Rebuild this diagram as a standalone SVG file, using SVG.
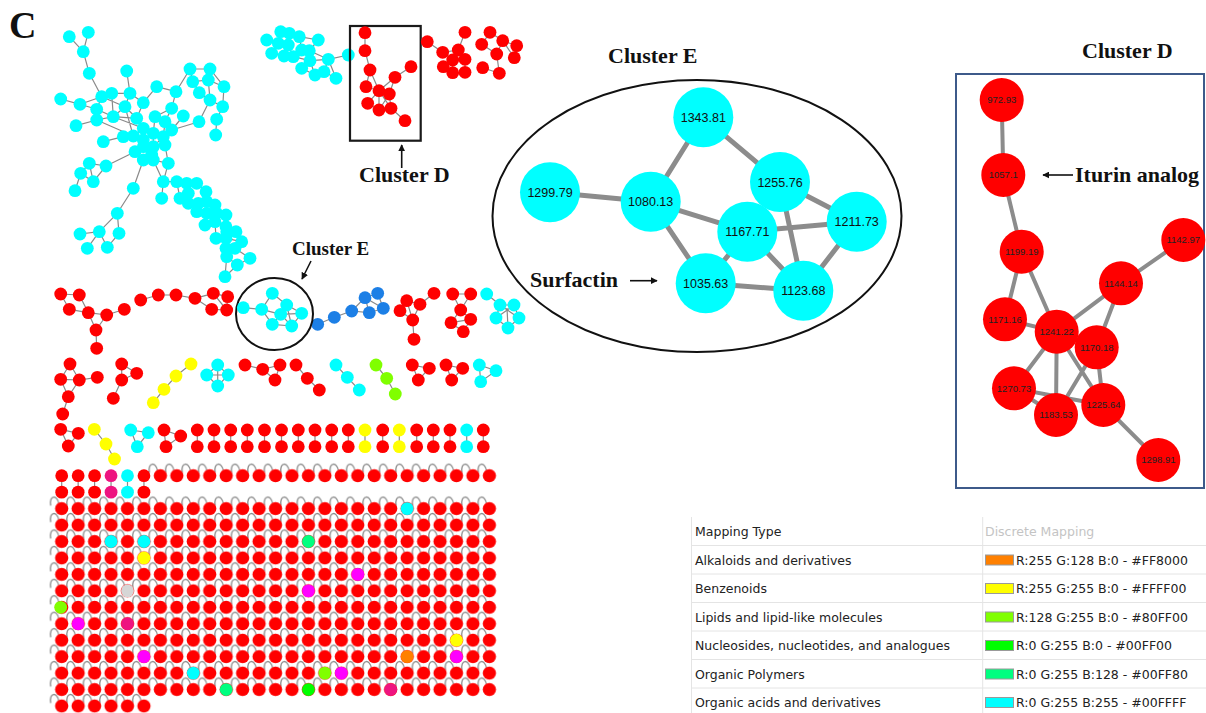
<svg xmlns="http://www.w3.org/2000/svg" xmlns:xlink="http://www.w3.org/1999/xlink" width="1206" height="713" viewBox="0 0 1206 713">
<style>
.r{fill:#ff0000}.c{fill:#00ffff}.y{fill:#ffff00}.b{fill:#1c7fe6}.l{fill:#80ff00}.m{fill:#ff00ff}.p{fill:#ee1480}.g{fill:#00ff00}.sg{fill:#00ff80}.o{fill:#ff8000}.gr{fill:#d6d6d6}
.e{stroke:#8a8a8a;stroke-width:1.2;fill:none}
.E{stroke:#8c8c8c;stroke-width:5;fill:none}
.D{stroke:#8c8c8c;stroke-width:4;fill:none}
.t{font-family:"Liberation Serif","Times New Roman",serif;font-weight:bold;fill:#111}
.le{font-family:"Liberation Sans",Arial,sans-serif;font-size:12.5px;fill:#111;text-anchor:middle}
.ld{font-family:"Liberation Sans",Arial,sans-serif;font-size:9.5px;fill:#222;text-anchor:middle}
.lg{font-family:"DejaVu Sans",Verdana,sans-serif;font-size:12.5px;fill:#222}
.sep{stroke:#e4e4e4;stroke-width:1}
.sw{stroke:#9a9a9a;stroke-width:1}
</style>
<defs>
<circle id="s" r="6.4"/>
<marker id="ah" viewBox="0 0 10 10" refX="9" refY="5" markerWidth="7" markerHeight="7" orient="auto" markerUnits="userSpaceOnUse"><path d="M0 0L10 5L0 10z" fill="#111"/></marker>
<pattern id="gn" patternUnits="userSpaceOnUse" x="53.475" y="467.475" width="16.45" height="16.45"><circle cx="8.225" cy="8.225" r="6.6" fill="#ff0000"/></pattern>
<pattern id="gl" patternUnits="userSpaceOnUse" x="48.7" y="462.7" width="16.45" height="16.45"><path d="M10 8C9 -1 0 -1 2 10" fill="none" stroke="#8a8a8a" stroke-width="1.3"/></pattern>
</defs>
<rect width="1206" height="713" fill="#ffffff"/>
<text class="t" x="9" y="38" font-size="38">C</text>

<g id="connectors">
<path class="e" d="M69.3 36.7L83.3 51.7M88.3 32.3L83.3 51.7M83.3 51.7L89.3 73.3M89.3 73.3L101.7 96.7M126.7 71L130 93.3M60.7 99L80 104.3M80 104.3L101.7 96.7M80 104.3L96.7 109.3M76 125.7L96.7 120M101.7 96.7L111.7 93.3M101.7 96.7L96.7 109.3M111.7 93.3L130 93.3M111.7 93.3L113.3 116.7M96.7 109.3L96.7 120M96.7 109.3L113.3 116.7M96.7 120L113.3 116.7M113.3 116.7L125 106.7M125 106.7L130 93.3M130 93.3L143.3 102.7M125 106.7L136.7 118.3M113.3 116.7L136.7 118.3M143.3 102.7L136.7 118.3M143.3 102.7L156.7 86.7M101.7 96.7L125 106.7M156.7 86.7L176 91.7M176 91.7L190 69M176 91.7L171.7 108.3M171.7 108.3L155 116.7M171.7 108.3L165 121.7M155 116.7L153.3 133.3M165 121.7L163.3 136.7M183.3 116L171.7 130M190 69L210 69M190 69L192.7 81.7M210 69L208.3 80M192.7 81.7L208.3 80M210 69L224 86.7M208.3 80L224 86.7M192.7 81.7L199.3 92.7M199.3 92.7L210 100M208.3 80L210 100M224 86.7L222.7 106.7M210 100L222.7 106.7M222.7 106.7L216.7 119.3M210 100L199 121.7M216.7 119.3L215.7 135M199 121.7L171.7 130M96.7 120L133.3 136M113.3 116.7L143.3 128.3M136.7 118.3L143.3 128.3M125 106.7L133.3 136"/>
<path class="e" d="M123.3 136.7L133.3 136M133.3 136L143.3 128.3M143.3 128.3L153.3 133.3M153.3 133.3L163.3 136.7M163.3 136.7L171.7 130M133.3 136L143.3 140M143.3 128.3L143.3 140M143.3 140L143.3 146.7M135 151.7L143.3 146.7M143.3 146.7L153.3 146.7M153.3 146.7L151.7 155M151.7 155L143.3 160M143.3 160L153.3 160M153.3 146.7L165 145M165 145L163.3 136.7M135 151.7L143.3 160M153.3 133.3L153.3 146.7M103.3 141.7L123.3 136.7M143.3 140L135 151.7M165 145L168.3 163.3M153.3 160L168.3 163.3M163.3 136.7L153.3 146.7M135 151.7L106 166M89.3 163.3L106 166M89.3 163.3L80.7 173.3M80.7 173.3L93.3 181.7M106 166L93.3 181.7M80.7 173.3L75 190.7M89.3 163.3L93.3 181.7M143.3 160L133.3 188.3M133.3 188.3L117.3 213.3M117.3 213.3L99.3 231.7M117.3 213.3L119 233.3M99.3 231.7L80 234M99.3 231.7L87.3 248.3M99.3 231.7L107.3 247.3M107.3 247.3L119 233.3"/>
<path class="e" d="M153.3 160L163.3 181.7M163.3 181.7L161.7 198.3M163.3 181.7L176.7 181.7M176.7 181.7L186.7 183.3M186.7 183.3L196.7 183.3M196.7 183.3L206 191.7M176.7 181.7L180 198.3M186.7 183.3L188.3 193.3M188.3 193.3L180 198.3M188.3 193.3L188.3 203.3M180 198.3L188.3 203.3M188.3 203.3L198.3 203.3M198.3 203.3L206.7 201.7M206 191.7L206.7 201.7M206.7 201.7L215 205M198.3 203.3L196.7 211.7M196.7 211.7L206.7 213.3M206.7 213.3L216.7 213.3M216.7 213.3L226 215M215 205L216.7 213.3M206.7 213.3L205 225M205 225L215 221.7M215 221.7L226 226.7M226 215L226 226.7M215 221.7L216 238.3M226.7 231.7L236 231.7M216 238.3L226 238.3M226 238.3L241.7 241.7M236 231.7L241.7 241.7M226 238.3L226 248.3M226 248.3L235 248.3M241.7 241.7L235 248.3M226 248.3L226.7 256.7M235 248.3L250 258.3M226.7 256.7L237.3 265M250 258.3L237.3 265M226.7 256.7L225 276.7M237.3 265L225 276.7M168.3 163.3L163.3 181.7"/>
<path class="e" d="M266.7 40L278.3 43.3M280.7 31.7L289.3 33.3M289.3 33.3L299.3 36.7M299.3 36.7L318.3 40M299.3 36.7L301.7 50M318.3 40L309.3 50.7M278.3 43.3L288.3 45M271.7 53.3L278.3 43.3M271.7 53.3L284 56M288.3 45L284 56M288.3 45L293.3 56.7M284 56L293.3 56.7M293.3 56.7L301.7 50M301.7 50L309.3 50.7M309.3 50.7L310 60.7M293.3 56.7L310 60.7M310 60.7L328.3 59.3M309.3 50.7L328.3 59.3M328.3 59.3L348.3 55M310 60.7L301.7 68.3M310 60.7L315 75M301.7 68.3L315 75M315 75L324 71.7M328.3 59.3L324 71.7M324 71.7L336 78.3M328.3 59.3L336 78.3M280.7 31.7L278.3 43.3M289.3 33.3L288.3 45"/>
<path class="e" d="M365 32.7L365 50.7M365 50.7L370 70M370 70L366 86.7M370 70L379 90.7M411 66.7L395 77.3M395 77.3L379 90.7M395 77.3L389.3 94M366 86.7L379 90.7M379 90.7L367.7 103.3M379 90.7L379 110M379 90.7L391 108.3M389.3 94L379 110M389.3 94L391 108.3M367.7 103.3L379 110M379 110L391 108.3M391 108.3L405 120.7"/>
<path class="e" d="M427.3 41.7L442.7 52.3M442.7 52.3L458.3 50M458.3 50L465 32.3M442.7 52.3L452.7 60M458.3 50L452.7 60M458.3 50L465 59.3M452.7 60L465 59.3M452.7 60L443.3 66.7M452.7 60L452.7 72.7M465 59.3L465 72.3M443.3 66.7L452.7 72.7M452.7 72.7L465 72.3M490 32.3L481.7 44.3M490 32.3L502.7 40.7M481.7 44.3L496.7 54M502.7 40.7L496.7 54M502.7 40.7L516.7 45.7M502.7 40.7L514.3 57.7M516.7 45.7L514.3 57.7M496.7 54L499.3 73.3M482.7 67.7L499.3 73.3"/>
<path class="e" d="M60.7 294L79.3 295M60.7 294L69.3 309.3M79.3 295L88.3 312.7M69.3 309.3L88.3 312.7M88.3 312.7L106.7 315M106.7 315L124.3 309.3M88.3 312.7L96 330M106.7 315L96 330M96 330L96.7 348.3M140.7 300L158.3 295L176 295L195 298.3M195 298.3L213.3 293.3M195 298.3L211.7 309.3M213.3 293.3L227.7 296.7M227.7 296.7L226.7 310M211.7 309.3L226.7 310M213.3 293.3L226.7 310"/>
<path class="e" d="M243.3 307.7L261.7 309.3M272.3 293.3L261.7 309.3M272.3 293.3L286.7 305M261.7 309.3L280.7 314.3M261.7 309.3L272.3 324.3M286.7 305L301.7 313.3M286.7 305L291.7 326M280.7 314.3L301.7 313.3M280.7 314.3L291.7 326M280.7 314.3L272.3 324.3M272.3 324.3L291.7 326M301.7 313.3L291.7 326"/>
<path class="e" d="M317.7 324.3L334.3 317.3L351.7 311M351.7 311L365 297.7M351.7 311L369.3 312.7M365 297.7L377.7 293.3M365 297.7L369.3 312.7M377.7 293.3L383.3 308.3M369.3 312.7L383.3 308.3M365 297.7L383.3 308.3"/>
<path class="e" d="M400 310.7L406.7 300.7M406.7 300.7L420 304.3M420 304.3L434 293.3M400 310.7L412.7 320M420 304.3L412.7 320M406.7 300.7L412.7 320M412.7 320L414 339.3M452.7 294L470.7 294M452.7 294L460.7 310M470.7 294L460.7 310M460.7 310L451 322.7M460.7 310L470.7 319.3M451 322.7L463.3 331.7M470.7 319.3L463.3 331.7M451 322.7L470.7 319.3"/>
<path class="e" d="M486.7 294L500 305M500 305L514 305M514 305L519 318M519 318L508 328M508 328L496 318M496 318L500 305M500 305L519 318M514 305L496 318M508 328L507 308"/>
<path class="e" d="M70 364L60.7 379.3M70 364L79.3 380M60.7 379.3L79.3 380M79.3 380L97.3 377.3M60.7 379.3L68.3 396.7M79.3 380L68.3 396.7M68.3 396.7L62.7 414M121.7 364L136.7 373.3M121.7 364L121.7 380M136.7 373.3L121.7 380M121.7 380L113.3 398.3M191 364L176 376L164 389.3L153.3 402.7M217.7 365L206.7 375L217.7 386L228.3 375ZM217.7 365L217.7 386M206.7 375L228.3 375M245 365L262.7 369.3L280 365L275 380L262.7 369.3M296 365L307.3 378.3L319.3 390M336 365L347.3 377.3L359.3 390M376 365L386.7 378.3L395.3 394M412.3 365L429.3 368.3L418.3 380ZM446 365L462.7 368.3L451.7 380ZM479.3 365L496 370.7L480.7 381.7Z"/>
<path class="e" d="M60.7 429.3L78.3 433.3L68.3 446ZM94.3 429.3L106 444L114.5 459M130.7 430L148.3 432.7L137.3 446.7ZM164 430L180.7 436L166 446.7ZM197.3 430V446.7M214 430V446.7M230.7 430V446.7M247.3 430V446.7M264.5 430V446.7M281.5 430V446.7M298.3 430V446.7M315 430V446.7M331.7 430V446.7M348.3 430V446.7M365 430V446.7M382.7 430V446.7M399.3 430V446.7M416.7 430V446.7M433.3 430V446.7M450 430V446.7M466.7 430V446.7M483.3 430V446.7"/>
<path class="e" d="M61.7 475.7V492.15M78.15 475.7V492.15M94.6 475.7V492.15M111.05 475.7V492.15M127.5 475.7V492.15M143.95 475.7V492.15"/>
<rect x="147.4" y="462.7" width="345.45" height="16.45" fill="url(#gl)"/>
<rect x="48.7" y="495.6" width="444.15" height="197.4" fill="url(#gl)"/>
<rect x="48.7" y="692.99" width="98.7" height="16.45" fill="url(#gl)"/>
<path class="E" d="M703.3 117.3L650.7 201.7M703.3 117.3L780 182M550 192.3L650.7 201.7M650.7 201.7L747.3 231.7M650.7 201.7L705.7 283.3M780 182L856.7 221.7M780 182L803.3 290.7M747.3 231.7L856.7 221.7M747.3 231.7L803.3 290.7M747.3 231.7L705.7 283.3M705.7 283.3L803.3 290.7M856.7 221.7L803.3 290.7"/>
<path class="D" d="M1001.7 100L1003.3 175M1003.3 175L1021.7 251.7M1021.7 251.7L1005 319.3M1021.7 251.7L1056.7 331.7M1183.3 240L1121 283.3M1121 283.3L1056.7 331.7M1121 283.3L1096.7 347.3M1005 319.3L1056.7 331.7M1056.7 331.7L1014 388.3M1056.7 331.7L1056 415M1056.7 331.7L1103.3 405M1096.7 347.3L1056 415M1096.7 347.3L1103.3 405M1014 388.3L1056 415M1014 388.3L1103.3 405M1103.3 405L1158.3 460"/>
</g>

<g id="net-main">
<use href="#s" class="c" x="69.3" y="36.7"/><use href="#s" class="c" x="88.3" y="32.3"/><use href="#s" class="c" x="83.3" y="51.7"/><use href="#s" class="c" x="89.3" y="73.3"/><use href="#s" class="c" x="126.7" y="71"/><use href="#s" class="c" x="60.7" y="99"/><use href="#s" class="c" x="80" y="104.3"/><use href="#s" class="c" x="76" y="125.7"/><use href="#s" class="c" x="101.7" y="96.7"/><use href="#s" class="c" x="111.7" y="93.3"/><use href="#s" class="c" x="96.7" y="109.3"/><use href="#s" class="c" x="96.7" y="120"/><use href="#s" class="c" x="113.3" y="116.7"/><use href="#s" class="c" x="125" y="106.7"/><use href="#s" class="c" x="130" y="93.3"/><use href="#s" class="c" x="143.3" y="102.7"/><use href="#s" class="c" x="136.7" y="118.3"/><use href="#s" class="c" x="156.7" y="86.7"/><use href="#s" class="c" x="176" y="91.7"/><use href="#s" class="c" x="171.7" y="108.3"/><use href="#s" class="c" x="155" y="116.7"/><use href="#s" class="c" x="165" y="121.7"/><use href="#s" class="c" x="183.3" y="116"/><use href="#s" class="c" x="190" y="69"/><use href="#s" class="c" x="210" y="69"/><use href="#s" class="c" x="192.7" y="81.7"/><use href="#s" class="c" x="208.3" y="80"/><use href="#s" class="c" x="224" y="86.7"/><use href="#s" class="c" x="199.3" y="92.7"/><use href="#s" class="c" x="210" y="100"/><use href="#s" class="c" x="222.7" y="106.7"/><use href="#s" class="c" x="216.7" y="119.3"/><use href="#s" class="c" x="199" y="121.7"/><use href="#s" class="c" x="215.7" y="135"/>
<use href="#s" class="c" x="123.3" y="136.7"/><use href="#s" class="c" x="133.3" y="136"/><use href="#s" class="c" x="143.3" y="128.3"/><use href="#s" class="c" x="153.3" y="133.3"/><use href="#s" class="c" x="163.3" y="136.7"/><use href="#s" class="c" x="171.7" y="130"/><use href="#s" class="c" x="165" y="145"/><use href="#s" class="c" x="143.3" y="140"/><use href="#s" class="c" x="135" y="151.7"/><use href="#s" class="c" x="143.3" y="146.7"/><use href="#s" class="c" x="153.3" y="146.7"/><use href="#s" class="c" x="151.7" y="155"/><use href="#s" class="c" x="143.3" y="160"/><use href="#s" class="c" x="153.3" y="160"/><use href="#s" class="c" x="103.3" y="141.7"/><use href="#s" class="c" x="168.3" y="163.3"/><use href="#s" class="c" x="89.3" y="163.3"/><use href="#s" class="c" x="106" y="166"/><use href="#s" class="c" x="80.7" y="173.3"/><use href="#s" class="c" x="93.3" y="181.7"/><use href="#s" class="c" x="75" y="190.7"/><use href="#s" class="c" x="133.3" y="188.3"/><use href="#s" class="c" x="117.3" y="213.3"/><use href="#s" class="c" x="99.3" y="231.7"/><use href="#s" class="c" x="80" y="234"/><use href="#s" class="c" x="87.3" y="248.3"/><use href="#s" class="c" x="107.3" y="247.3"/><use href="#s" class="c" x="119" y="233.3"/>
<use href="#s" class="c" x="163.3" y="181.7"/><use href="#s" class="c" x="161.7" y="198.3"/><use href="#s" class="c" x="176.7" y="181.7"/><use href="#s" class="c" x="186.7" y="183.3"/><use href="#s" class="c" x="196.7" y="183.3"/><use href="#s" class="c" x="206" y="191.7"/><use href="#s" class="c" x="188.3" y="193.3"/><use href="#s" class="c" x="180" y="198.3"/><use href="#s" class="c" x="188.3" y="203.3"/><use href="#s" class="c" x="198.3" y="203.3"/><use href="#s" class="c" x="206.7" y="201.7"/><use href="#s" class="c" x="215" y="205"/><use href="#s" class="c" x="196.7" y="211.7"/><use href="#s" class="c" x="206.7" y="213.3"/><use href="#s" class="c" x="216.7" y="213.3"/><use href="#s" class="c" x="226" y="215"/><use href="#s" class="c" x="205" y="225"/><use href="#s" class="c" x="215" y="221.7"/><use href="#s" class="c" x="226" y="226.7"/><use href="#s" class="c" x="216" y="238.3"/><use href="#s" class="c" x="226.7" y="231.7"/><use href="#s" class="c" x="236" y="231.7"/><use href="#s" class="c" x="226" y="238.3"/><use href="#s" class="c" x="241.7" y="241.7"/><use href="#s" class="c" x="226" y="248.3"/><use href="#s" class="c" x="235" y="248.3"/><use href="#s" class="c" x="226.7" y="256.7"/><use href="#s" class="c" x="250" y="258.3"/><use href="#s" class="c" x="237.3" y="265"/><use href="#s" class="c" x="225" y="276.7"/>
</g>
<g id="net-top-cyan">
<use href="#s" class="c" x="266.7" y="40"/><use href="#s" class="c" x="280.7" y="31.7"/><use href="#s" class="c" x="289.3" y="33.3"/><use href="#s" class="c" x="299.3" y="36.7"/><use href="#s" class="c" x="318.3" y="40"/><use href="#s" class="c" x="271.7" y="53.3"/><use href="#s" class="c" x="278.3" y="43.3"/><use href="#s" class="c" x="288.3" y="45"/><use href="#s" class="c" x="284" y="56"/><use href="#s" class="c" x="293.3" y="56.7"/><use href="#s" class="c" x="301.7" y="50"/><use href="#s" class="c" x="309.3" y="50.7"/><use href="#s" class="c" x="310" y="60.7"/><use href="#s" class="c" x="328.3" y="59.3"/><use href="#s" class="c" x="348.3" y="55"/><use href="#s" class="c" x="301.7" y="68.3"/><use href="#s" class="c" x="315" y="75"/><use href="#s" class="c" x="324" y="71.7"/><use href="#s" class="c" x="336" y="78.3"/>
</g>
<g id="cluster-d-small">
<rect x="350" y="26" width="70.7" height="114.7" fill="none" stroke="#1a1a1a" stroke-width="2.2"/>
<use href="#s" class="r" x="365" y="32.7"/><use href="#s" class="r" x="365" y="50.7"/><use href="#s" class="r" x="370" y="70"/><use href="#s" class="r" x="366" y="86.7"/><use href="#s" class="r" x="379" y="90.7"/><use href="#s" class="r" x="389.3" y="94"/><use href="#s" class="r" x="395" y="77.3"/><use href="#s" class="r" x="411" y="66.7"/><use href="#s" class="r" x="367.7" y="103.3"/><use href="#s" class="r" x="379" y="110"/><use href="#s" class="r" x="391" y="108.3"/><use href="#s" class="r" x="405" y="120.7"/>
<line x1="401.7" y1="168" x2="401.7" y2="145" stroke="#111" stroke-width="1.6" marker-end="url(#ah)"/>
<text class="t" x="359" y="182" font-size="22">Cluster D</text>
</g>
<g id="net-top-red">
<use href="#s" class="r" x="427.3" y="41.7"/><use href="#s" class="r" x="442.7" y="52.3"/><use href="#s" class="r" x="458.3" y="50"/><use href="#s" class="r" x="465" y="32.3"/><use href="#s" class="r" x="452.7" y="60"/><use href="#s" class="r" x="465" y="59.3"/><use href="#s" class="r" x="443.3" y="66.7"/><use href="#s" class="r" x="452.7" y="72.7"/><use href="#s" class="r" x="465" y="72.3"/>
<use href="#s" class="r" x="490" y="32.3"/><use href="#s" class="r" x="481.7" y="44.3"/><use href="#s" class="r" x="502.7" y="40.7"/><use href="#s" class="r" x="516.7" y="45.7"/><use href="#s" class="r" x="496.7" y="54"/><use href="#s" class="r" x="514.3" y="57.7"/><use href="#s" class="r" x="482.7" y="67.7"/><use href="#s" class="r" x="499.3" y="73.3"/>
</g>
<g id="row-a">
<use href="#s" class="r" x="60.7" y="294"/><use href="#s" class="r" x="79.3" y="295"/><use href="#s" class="r" x="69.3" y="309.3"/><use href="#s" class="r" x="88.3" y="312.7"/><use href="#s" class="r" x="106.7" y="315"/><use href="#s" class="r" x="124.3" y="309.3"/><use href="#s" class="r" x="96" y="330"/><use href="#s" class="r" x="96.7" y="348.3"/>
<use href="#s" class="r" x="140.7" y="300"/><use href="#s" class="r" x="158.3" y="295"/><use href="#s" class="r" x="176" y="295"/><use href="#s" class="r" x="195" y="298.3"/><use href="#s" class="r" x="213.3" y="293.3"/><use href="#s" class="r" x="227.7" y="296.7"/><use href="#s" class="r" x="211.7" y="309.3"/><use href="#s" class="r" x="226.7" y="310"/>
<use href="#s" class="b" x="317.7" y="324.3"/><use href="#s" class="b" x="334.3" y="317.3"/><use href="#s" class="b" x="351.7" y="311"/><use href="#s" class="b" x="365" y="297.7"/><use href="#s" class="b" x="377.7" y="293.3"/><use href="#s" class="b" x="369.3" y="312.7"/><use href="#s" class="b" x="383.3" y="308.3"/>
<use href="#s" class="r" x="400" y="310.7"/><use href="#s" class="r" x="406.7" y="300.7"/><use href="#s" class="r" x="420" y="304.3"/><use href="#s" class="r" x="434" y="293.3"/><use href="#s" class="r" x="412.7" y="320"/><use href="#s" class="r" x="414" y="339.3"/>
<use href="#s" class="r" x="452.7" y="294"/><use href="#s" class="r" x="470.7" y="294"/><use href="#s" class="r" x="460.7" y="310"/><use href="#s" class="r" x="451" y="322.7"/><use href="#s" class="r" x="470.7" y="319.3"/><use href="#s" class="r" x="463.3" y="331.7"/>
<use href="#s" class="c" x="486.7" y="294"/><use href="#s" class="c" x="500" y="305"/><use href="#s" class="c" x="514" y="305"/><use href="#s" class="c" x="496" y="318"/><use href="#s" class="c" x="519" y="318"/><use href="#s" class="c" x="508" y="328"/>
</g>
<g id="cluster-e-small">
<ellipse cx="274.5" cy="314" rx="38.5" ry="36" fill="none" stroke="#111" stroke-width="2"/>
<use href="#s" class="c" x="243.3" y="307.7"/><use href="#s" class="c" x="261.7" y="309.3"/><use href="#s" class="c" x="272.3" y="293.3"/><use href="#s" class="c" x="286.7" y="305"/><use href="#s" class="c" x="301.7" y="313.3"/><use href="#s" class="c" x="280.7" y="314.3"/><use href="#s" class="c" x="272.3" y="324.3"/><use href="#s" class="c" x="291.7" y="326"/>
<line x1="311" y1="261" x2="302" y2="279" stroke="#111" stroke-width="1.6" marker-end="url(#ah)"/>
<text class="t" x="292" y="255" font-size="19">Cluster E</text>
</g>
<g id="row-b">
<use href="#s" class="r" x="70" y="364"/><use href="#s" class="r" x="60.7" y="379.3"/><use href="#s" class="r" x="79.3" y="380"/><use href="#s" class="r" x="97.3" y="377.3"/><use href="#s" class="r" x="68.3" y="396.7"/><use href="#s" class="r" x="62.7" y="414"/>
<use href="#s" class="r" x="121.7" y="364"/><use href="#s" class="r" x="136.7" y="373.3"/><use href="#s" class="r" x="121.7" y="380"/><use href="#s" class="r" x="113.3" y="398.3"/>
<use href="#s" class="y" x="191" y="364"/><use href="#s" class="y" x="176" y="376"/><use href="#s" class="y" x="164" y="389.3"/><use href="#s" class="y" x="153.3" y="402.7"/>
<use href="#s" class="c" x="217.7" y="365"/><use href="#s" class="c" x="206.7" y="375"/><use href="#s" class="c" x="228.3" y="375"/><use href="#s" class="c" x="217.7" y="386"/>
<use href="#s" class="r" x="245" y="365"/><use href="#s" class="r" x="262.7" y="369.3"/><use href="#s" class="r" x="280" y="365"/><use href="#s" class="r" x="275" y="380"/>
<use href="#s" class="r" x="296" y="365"/><use href="#s" class="r" x="307.3" y="378.3"/><use href="#s" class="r" x="319.3" y="390"/>
<use href="#s" class="c" x="336" y="365"/><use href="#s" class="c" x="347.3" y="377.3"/><use href="#s" class="c" x="359.3" y="390"/>
<use href="#s" class="l" x="376" y="365"/><use href="#s" class="l" x="386.7" y="378.3"/><use href="#s" class="l" x="395.3" y="394"/>
<use href="#s" class="r" x="412.3" y="365"/><use href="#s" class="r" x="429.3" y="368.3"/><use href="#s" class="r" x="418.3" y="380"/>
<use href="#s" class="r" x="446" y="365"/><use href="#s" class="r" x="462.7" y="368.3"/><use href="#s" class="r" x="451.7" y="380"/>
<use href="#s" class="c" x="479.3" y="365"/><use href="#s" class="c" x="496" y="370.7"/><use href="#s" class="c" x="480.7" y="381.7"/>
</g>
<g id="row-c">
<use href="#s" class="r" x="60.7" y="429.3"/><use href="#s" class="r" x="78.3" y="433.3"/><use href="#s" class="r" x="68.3" y="446"/>
<use href="#s" class="y" x="94.3" y="429.3"/><use href="#s" class="y" x="106" y="444"/><use href="#s" class="y" x="114.5" y="459"/>
<use href="#s" class="c" x="130.7" y="430"/><use href="#s" class="c" x="148.3" y="432.7"/><use href="#s" class="c" x="137.3" y="446.7"/>
<use href="#s" class="r" x="164" y="430"/><use href="#s" class="r" x="180.7" y="436"/><use href="#s" class="r" x="166" y="446.7"/>
<use href="#s" class="r" x="197.3" y="430"/><use href="#s" class="r" x="197.3" y="446.7"/><use href="#s" class="r" x="214" y="430"/><use href="#s" class="r" x="214" y="446.7"/><use href="#s" class="r" x="230.7" y="430"/><use href="#s" class="r" x="230.7" y="446.7"/><use href="#s" class="r" x="247.3" y="430"/><use href="#s" class="r" x="247.3" y="446.7"/><use href="#s" class="r" x="264.5" y="430"/><use href="#s" class="r" x="264.5" y="446.7"/><use href="#s" class="r" x="281.5" y="430"/><use href="#s" class="r" x="281.5" y="446.7"/><use href="#s" class="r" x="298.3" y="430"/><use href="#s" class="r" x="298.3" y="446.7"/><use href="#s" class="r" x="315" y="430"/><use href="#s" class="r" x="315" y="446.7"/><use href="#s" class="r" x="331.7" y="430"/><use href="#s" class="r" x="331.7" y="446.7"/><use href="#s" class="r" x="348.3" y="430"/><use href="#s" class="r" x="348.3" y="446.7"/><use href="#s" class="y" x="365" y="430"/><use href="#s" class="y" x="365" y="446.7"/><use href="#s" class="r" x="382.7" y="430"/><use href="#s" class="r" x="382.7" y="446.7"/><use href="#s" class="y" x="399.3" y="430"/><use href="#s" class="y" x="399.3" y="446.7"/><use href="#s" class="r" x="416.7" y="430"/><use href="#s" class="r" x="416.7" y="446.7"/><use href="#s" class="r" x="433.3" y="430"/><use href="#s" class="r" x="433.3" y="446.7"/><use href="#s" class="r" x="450" y="430"/><use href="#s" class="r" x="450" y="446.7"/><use href="#s" class="c" x="466.7" y="430"/><use href="#s" class="c" x="466.7" y="446.7"/><use href="#s" class="r" x="483.3" y="430"/><use href="#s" class="r" x="483.3" y="446.7"/>
</g>
<g id="grid">
<use href="#s" class="r" x="61.7" y="475.7"/><use href="#s" class="r" x="61.7" y="492.15"/><use href="#s" class="r" x="78.15" y="475.7"/><use href="#s" class="r" x="78.15" y="492.15"/><use href="#s" class="r" x="94.6" y="475.7"/><use href="#s" class="r" x="94.6" y="492.15"/><use href="#s" class="p" x="111.05" y="475.7"/><use href="#s" class="p" x="111.05" y="492.15"/><use href="#s" class="c" x="127.5" y="475.7"/><use href="#s" class="c" x="127.5" y="492.15"/><use href="#s" class="r" x="143.95" y="475.7"/><use href="#s" class="r" x="143.95" y="492.15"/>
<rect x="152.175" y="467.475" width="345.45" height="16.45" fill="url(#gn)"/>
<rect x="53.475" y="500.375" width="444.15" height="197.4" fill="url(#gn)"/>
<rect x="53.475" y="697.775" width="98.7" height="16.45" fill="url(#gn)"/>
<use href="#s" class="c" x="407.15" y="508.6"/><use href="#s" class="c" x="111.05" y="541.5"/><use href="#s" class="c" x="143.95" y="541.5"/><use href="#s" class="sg" x="308.45" y="541.5"/><use href="#s" class="y" x="143.95" y="557.95"/><use href="#s" class="m" x="357.8" y="574.4"/><use href="#s" class="gr" x="127.5" y="590.85"/><use href="#s" class="m" x="308.45" y="590.85"/><use href="#s" class="l" x="60.7" y="607.3"/><use href="#s" class="m" x="78.15" y="623.75"/><use href="#s" class="p" x="127.5" y="623.75"/><use href="#s" class="y" x="456.5" y="640.2"/><use href="#s" class="m" x="143.95" y="656.65"/><use href="#s" class="o" x="407.15" y="656.65"/><use href="#s" class="m" x="456.5" y="656.65"/><use href="#s" class="c" x="193.3" y="673.1"/><use href="#s" class="l" x="324.9" y="673.1"/><use href="#s" class="m" x="341.35" y="673.1"/><use href="#s" class="sg" x="226.2" y="689.55"/><use href="#s" class="g" x="308.45" y="689.55"/><use href="#s" class="p" x="390.7" y="689.55"/>
</g>

<g id="cluster-e">
<text class="t" x="608" y="63" font-size="22">Cluster E</text>
<ellipse cx="697" cy="216" rx="204.5" ry="136" fill="none" stroke="#111" stroke-width="2"/>
<g id="e1343"><circle cx="703.3" cy="117.3" r="30" class="c"/><text class="le" x="703.3" y="121.8">1343.81</text></g>
<g id="e1299"><circle cx="550" cy="192.3" r="30" class="c"/><text class="le" x="550" y="196.8">1299.79</text></g>
<g id="e1080"><circle cx="650.7" cy="201.7" r="30" class="c"/><text class="le" x="650.7" y="206.2">1080.13</text></g>
<g id="e1255"><circle cx="780" cy="182" r="30" class="c"/><text class="le" x="780" y="186.5">1255.76</text></g>
<g id="e1211"><circle cx="856.7" cy="221.7" r="30" class="c"/><text class="le" x="856.7" y="226.2">1211.73</text></g>
<g id="e1167"><circle cx="747.3" cy="231.7" r="30" class="c"/><text class="le" x="747.3" y="236.2">1167.71</text></g>
<g id="e1035"><circle cx="705.7" cy="283.3" r="30" class="c"/><text class="le" x="705.7" y="287.8">1035.63</text></g>
<g id="e1123"><circle cx="803.3" cy="290.7" r="30" class="c"/><text class="le" x="803.3" y="295.2">1123.68</text></g>
<text class="t" x="530" y="287" font-size="22">Surfactin</text>
<line x1="630" y1="280.7" x2="657" y2="280.7" stroke="#111" stroke-width="1.6" marker-end="url(#ah)"/>
</g>

<g id="cluster-d">
<text class="t" x="1082" y="58" font-size="22">Cluster D</text>
<rect x="956" y="74" width="248" height="414" fill="none" stroke="#3d5a8a" stroke-width="2"/>
<g id="d972"><circle cx="1001.7" cy="100" r="22" class="r"/><text class="ld" x="1001.7" y="103.4">972.93</text></g>
<g id="d1057"><circle cx="1003.3" cy="175" r="22" class="r"/><text class="ld" x="1003.3" y="178.4">1057.1</text></g>
<g id="d1199"><circle cx="1021.7" cy="251.7" r="22" class="r"/><text class="ld" x="1021.7" y="255.1">1199.19</text></g>
<g id="d1142"><circle cx="1183.3" cy="240" r="22" class="r"/><text class="ld" x="1183.3" y="243.4">1142.97</text></g>
<g id="d1144"><circle cx="1121" cy="283.3" r="22" class="r"/><text class="ld" x="1121" y="286.7">1144.14</text></g>
<g id="d1171"><circle cx="1005" cy="319.3" r="22" class="r"/><text class="ld" x="1005" y="322.7">1171.16</text></g>
<g id="d1241"><circle cx="1056.7" cy="331.7" r="22" class="r"/><text class="ld" x="1056.7" y="335.1">1241.22</text></g>
<g id="d1170"><circle cx="1096.7" cy="347.3" r="22" class="r"/><text class="ld" x="1096.7" y="350.7">1170.18</text></g>
<g id="d1270"><circle cx="1014" cy="388.3" r="22" class="r"/><text class="ld" x="1014" y="391.7">1270.73</text></g>
<g id="d1183"><circle cx="1056" cy="415" r="22" class="r"/><text class="ld" x="1056" y="418.4">1183.53</text></g>
<g id="d1225"><circle cx="1103.3" cy="405" r="22" class="r"/><text class="ld" x="1103.3" y="408.4">1225.64</text></g>
<g id="d1298"><circle cx="1158.3" cy="460" r="22" class="r"/><text class="ld" x="1158.3" y="463.4">1298.91</text></g>
<line x1="1073" y1="175" x2="1043" y2="175" stroke="#111" stroke-width="1.6" marker-end="url(#ah)"/>
<text class="t" x="1075" y="182" font-size="22">Iturin analog</text>
</g>

<g id="legend">
<line class="sep" x1="691.5" y1="517" x2="691.5" y2="713"/>
<line class="sep" x1="982.7" y1="517" x2="982.7" y2="713"/>
<line class="sep" x1="691.5" y1="545.5" x2="1206" y2="545.5"/>
<line class="sep" x1="691.5" y1="574" x2="1206" y2="574"/>
<line class="sep" x1="691.5" y1="602.5" x2="1206" y2="602.5"/>
<line class="sep" x1="691.5" y1="631" x2="1206" y2="631"/>
<line class="sep" x1="691.5" y1="659.5" x2="1206" y2="659.5"/>
<line class="sep" x1="691.5" y1="688" x2="1206" y2="688"/>
<text class="lg" x="695" y="536">Mapping Type</text>
<text class="lg" x="985" y="536" style="fill:#c4c4c4">Discrete Mapping</text>
<text class="lg" x="695" y="564.5">Alkaloids and derivatives</text>
<text class="lg" x="695" y="593">Benzenoids</text>
<text class="lg" x="695" y="621.5">Lipids and lipid-like molecules</text>
<text class="lg" x="695" y="650">Nucleosides, nucleotides, and analogues</text>
<text class="lg" x="695" y="678.5">Organic Polymers</text>
<text class="lg" x="695" y="707">Organic acids and derivatives</text>
<rect class="sw o" x="985.5" y="555" width="28" height="10"/>
<rect class="sw y" x="985.5" y="583.5" width="28" height="10"/>
<rect class="sw l" x="985.5" y="612" width="28" height="10"/>
<rect class="sw g" x="985.5" y="640.5" width="28" height="10"/>
<rect class="sw sg" x="985.5" y="669" width="28" height="10"/>
<rect class="sw c" x="985.5" y="697.5" width="28" height="10"/>
<text class="lg" x="1016" y="564.5">R:255 G:128 B:0 - #FF8000</text>
<text class="lg" x="1016" y="593">R:255 G:255 B:0 - #FFFF00</text>
<text class="lg" x="1016" y="621.5">R:128 G:255 B:0 - #80FF00</text>
<text class="lg" x="1016" y="650">R:0 G:255 B:0 - #00FF00</text>
<text class="lg" x="1016" y="678.5">R:0 G:255 B:128 - #00FF80</text>
<text class="lg" x="1016" y="707">R:0 G:255 B:255 - #00FFFF</text>
</g>
</svg>
